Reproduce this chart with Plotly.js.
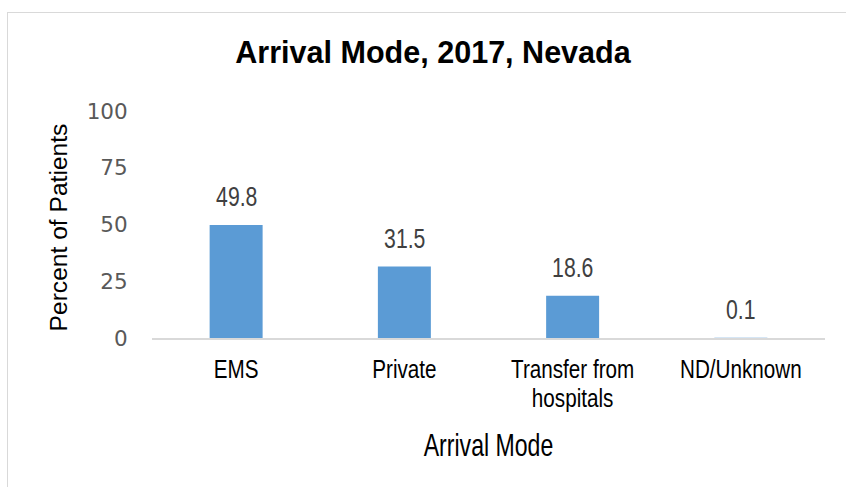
<!DOCTYPE html>
<html><head><meta charset="utf-8">
<script src="https://cdn.plot.ly/plotly-3.0.1.min.js"></script>
<style>
body{margin:0;padding:0;background:#fff;}
#frame{position:absolute;left:7px;top:12px;width:900px;height:600px;border-top:1px solid #d9d9d9;border-left:1px solid #d9d9d9;}
#chart{position:absolute;left:0;top:0;width:846px;height:487px;}
</style></head>
<body>
<div id="frame"></div>
<div id="chart"></div>
<script>
const categories = ["EMS", "Private", "Transfer from<br>hospitals", "ND/Unknown"];
const values = [49.8, 31.5, 18.6, 0.1];
const yTicks = [0, 25, 50, 75, 100];

const FONT = '"Liberation Sans", Arial, sans-serif';
const TICKFONT = '"DejaVu Sans", sans-serif';

const annotations = categories.map((c, i) => ({
  x: c, y: values[i], xref: 'x', yref: 'y',
  text: values[i].toFixed(1), showarrow: false,
  yanchor: 'bottom', yshift: 11,
  font: {family: FONT, size: 28.5, color: '#404040'}
}));

const data = [{
  type: 'bar', x: categories, y: values,
  marker: {color: '#5b9bd5'}, width: 0.315,
  hoverinfo: 'none'
}];

const layout = {
  width: 846, height: 487,
  margin: {l: 152, r: 21, t: 111, b: 149},
  paper_bgcolor: 'rgba(0,0,0,0)', plot_bgcolor: 'rgba(0,0,0,0)',
  showlegend: false,
  title: {text: '<b>Arrival Mode, 2017, Nevada</b>', xref: 'container', x: 0.5118, xanchor: 'center',
          yref: 'container', y: 0.894, yanchor: 'middle',
          font: {family: FONT, size: 32, color: '#000'}},
  xaxis: {
    type: 'category', showgrid: false, zeroline: false,
    showline: true, linecolor: '#d9d9d9', linewidth: 2,
    ticks: 'outside', ticklen: 6, tickcolor: 'rgba(0,0,0,0)',
    tickfont: {family: FONT, size: 26.5, color: '#000'},
    title: {text: 'Arrival Mode', standoff: 17, font: {family: FONT, size: 31, color: '#000'}}
  },
  yaxis: {
    range: [0, 100], tickvals: yTicks, showgrid: false, zeroline: false, showline: false,
    ticks: 'outside', ticklen: 19, tickcolor: 'rgba(0,0,0,0)',
    tickfont: {family: TICKFONT, size: 21.5, color: '#595959'},
    title: {text: 'Percent of Patients', standoff: 12, font: {family: FONT, size: 24.6, color: '#000'}}
  },
  annotations: annotations
};

function squeeze(el, sx) {
  const bb = el.getBBox();
  const cx = bb.x + bb.width / 2;
  const t = el.getAttribute('transform') || '';
  el.setAttribute('transform', t + ' translate(' + cx + ',0) scale(' + sx + ',1) translate(' + (-cx) + ',0)');
}

Plotly.newPlot('chart', data, layout, {displayModeBar: false, staticPlot: true}).then(gd => {
  gd.querySelectorAll('.gtitle').forEach(el => squeeze(el, 0.955));
  gd.querySelectorAll('.xtick text').forEach(el => {
    el.querySelectorAll('tspan.line').forEach((ts, k) => { if (k > 0) ts.setAttribute('dy', '1.1em'); });
    squeeze(el, 0.78);
  });
  gd.querySelectorAll('.xtitle').forEach(el => squeeze(el, 0.745));
  gd.querySelectorAll('.annotation-text').forEach(el => squeeze(el, 0.745));
  gd.querySelectorAll('.ytitle').forEach(el => {
    const t = el.getAttribute('transform') || '';
    el.setAttribute('transform', t + ' translate(-3,0)');
  });
});
</script>
</body></html>
